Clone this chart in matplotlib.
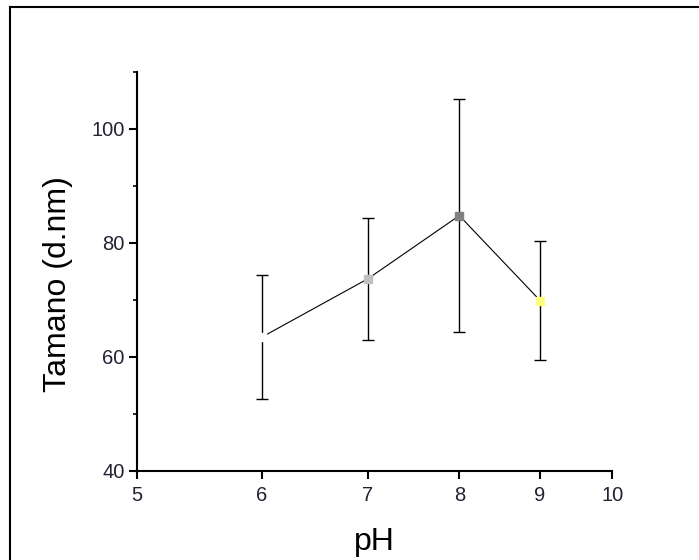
import matplotlib
matplotlib.use("Agg")
import matplotlib.pyplot as plt
from matplotlib.lines import Line2D
from matplotlib.ticker import FixedLocator, NullLocator, FixedFormatter, MultipleLocator

plt.rcParams['font.family'] = ['Liberation Sans', 'DejaVu Sans']

# data
ph = [6, 7, 8, 9]
size = [63.5, 73.7, 84.8, 69.9]
err = [10.9, 10.7, 20.4, 10.5]
point_colors = ['#ffffff', '#c0c0c0', '#808080', '#ffff80']
x_ticks = [5, 6, 7, 8, 9, 10]

fig = plt.figure(figsize=(6.99, 5.6), dpi=100)
ax = fig.add_axes([0.196, 0.159, 0.680, 0.7125])

ax.plot(ph, size, color='black', lw=0.8, zorder=2)
ax.errorbar(ph, size, yerr=err, fmt='none', ecolor='black', elinewidth=1,
            capsize=4.5, capthick=1, zorder=3)
for x, y, c in zip(ph, size, point_colors):
    ax.plot(x, y, 's', ms=6, color=c, mec=c, zorder=4)

ax.set_xscale('log')
ax.set_xlim(5, 10)
ax.set_ylim(40, 110)
ax.xaxis.set_major_locator(FixedLocator(x_ticks))
ax.xaxis.set_major_formatter(FixedFormatter([str(t) for t in x_ticks]))
ax.xaxis.set_minor_locator(NullLocator())
ax.yaxis.set_major_locator(FixedLocator([40, 60, 80, 100]))
ax.yaxis.set_minor_locator(MultipleLocator(10))

for s in ['top', 'right']:
    ax.spines[s].set_visible(False)
for s in ['left', 'bottom']:
    ax.spines[s].set_linewidth(1.5)

ax.tick_params(which='major', direction='out', length=6, width=1.5,
               labelsize=14.5, labelcolor='#222233', pad=3)
ax.tick_params(axis='x', which='major', pad=5)
ax.tick_params(which='minor', direction='out', length=3, width=1.2)

ax.set_xlabel('pH', fontsize=23, labelpad=16)
ax.set_ylabel('Tamano (d.nm)', fontsize=23)
ax.yaxis.set_label_coords(-0.135, 0.469)

# outer frame (left and top edges)
fig.add_artist(Line2D([10 / 699, 10 / 699], [0, 1 - 7 / 560], color='black', lw=1.5,
                      transform=fig.transFigure))
fig.add_artist(Line2D([10 / 699, 1], [1 - 7 / 560, 1 - 7 / 560], color='black', lw=1.5,
                      transform=fig.transFigure))

fig.savefig('out.png', dpi=100)
